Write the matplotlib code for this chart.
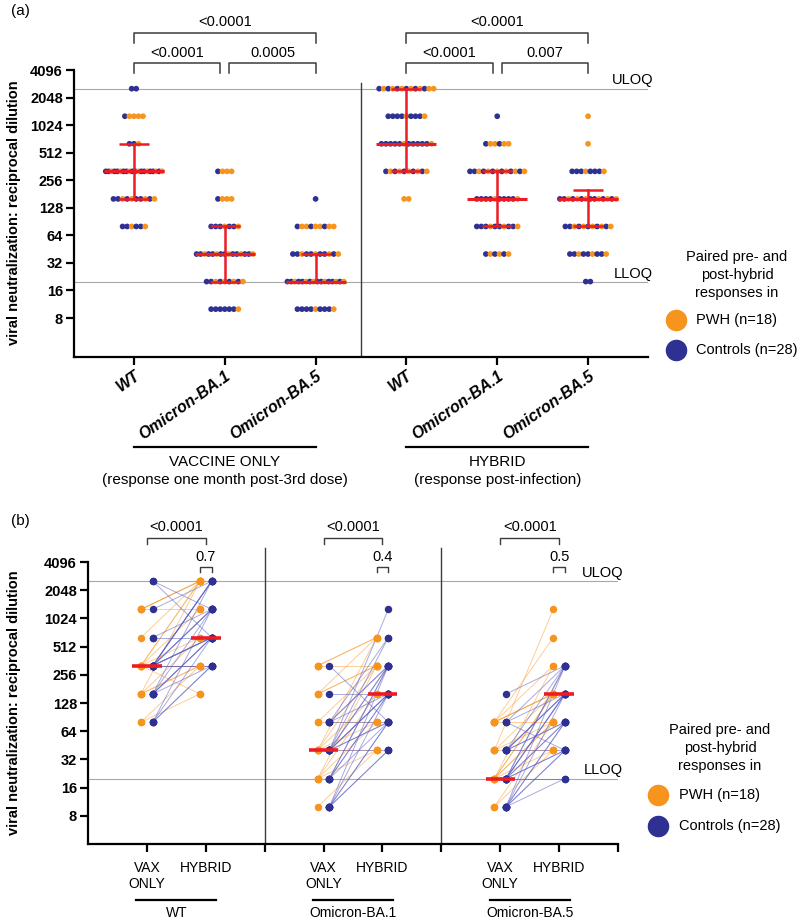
import numpy as np
import matplotlib
matplotlib.use('Agg')
import matplotlib.pyplot as plt
from matplotlib.lines import Line2D
from matplotlib.transforms import blended_transform_factory

plt.rcParams['font.family'] = ['Liberation Sans', 'DejaVu Sans']

ORANGE = '#F7941D'
BLUE = '#2E3192'
RED = '#EC1C24'
GRAYLINE = '#A8A8A8'
DARK = '#3C3C3C'

# ---------------- data (per subject, reciprocal dilution) ----------------
pwh_vax_wt = [80, 80, 160, 160, 160, 160, 320, 320, 320, 320, 320, 320, 320, 640, 1280, 1280, 1280, 1280]
pwh_hyb_wt = [320, 160, 640, 320, 2560, 320, 160, 2560, 1280, 320, 2560, 640, 320, 2560, 2560, 1280, 2560, 2560]
pwh_vax_ba1 = [10, 20, 20, 20, 20, 40, 40, 40, 40, 40, 80, 80, 160, 160, 160, 320, 320, 320]
pwh_hyb_ba1 = [40, 40, 80, 320, 160, 80, 320, 640, 40, 160, 320, 80, 640, 320, 320, 640, 320, 640]
pwh_vax_ba5 = [10, 10, 20, 20, 20, 20, 20, 20, 40, 40, 40, 40, 80, 80, 80, 80, 80, 80]
pwh_hyb_ba5 = [40, 80, 40, 160, 80, 320, 160, 80, 1280, 160, 40, 80, 640, 160, 320, 80, 160, 160]

ctl_vax_wt = [80, 80, 80, 80, 160, 160, 160, 160, 160, 160, 320, 320, 320, 320, 320, 320, 320, 320,
              320, 320, 320, 320, 320, 640, 640, 1280, 2560, 2560]
ctl_hyb_wt = [320, 640, 1280, 320, 640, 2560, 640, 320, 1280, 640, 640, 1280, 320, 2560, 640, 1280,
              2560, 320, 2560, 640, 1280, 640, 2560, 1280, 640, 2560, 640, 1280]
ctl_vax_ba1 = [10, 10, 10, 10, 10, 10, 20, 20, 20, 20, 20, 40, 40, 40, 40, 40, 40, 40, 40, 40, 40,
               80, 80, 80, 80, 80, 160, 320]
ctl_hyb_ba1 = [40, 80, 160, 80, 320, 40, 80, 160, 320, 160, 320, 160, 320, 80, 640, 160, 80, 320,
               160, 1280, 40, 320, 160, 640, 80, 320, 160, 80]
ctl_vax_ba5 = [10, 10, 10, 10, 10, 10, 10, 20, 20, 20, 20, 20, 20, 20, 20, 20, 20, 40, 40, 40, 40,
               40, 40, 40, 80, 80, 80, 160]
ctl_hyb_ba5 = [20, 40, 80, 160, 40, 80, 320, 20, 40, 80, 160, 320, 160, 40, 80, 160, 320, 80, 160,
               320, 40, 160, 80, 160, 320, 40, 160, 320]

variant_labels = ['WT', 'Omicron-BA.1', 'Omicron-BA.5']
panel_a_labels = variant_labels + variant_labels
panel_a_pwh = [pwh_vax_wt, pwh_vax_ba1, pwh_vax_ba5, pwh_hyb_wt, pwh_hyb_ba1, pwh_hyb_ba5]
panel_a_ctl = [ctl_vax_wt, ctl_vax_ba1, ctl_vax_ba5, ctl_hyb_wt, ctl_hyb_ba1, ctl_hyb_ba5]
a_median = [320, 40, 20, 640, 160, 160]
a_q1 = [160, 20, 20, 320, 80, 80]
a_q3 = [640, 80, 40, 2560, 320, 200]
a_pvals_top = ['<0.0001', '<0.0001']
a_pvals_low = [['<0.0001', '0.0005'], ['<0.0001', '0.007']]

b_median_vax = [320, 40, 20]
b_median_hyb = [640, 160, 160]
b_pvals_big = ['<0.0001', '<0.0001', '<0.0001']
b_pvals_small = ['0.7', '0.4', '0.5']

ULOQ, LLOQ = 2560, 20
yticks = [8, 16, 32, 64, 128, 256, 512, 1024, 2048, 4096]

# ---------------- figure ----------------
W, H = 800, 921
fig = plt.figure(figsize=(W / 100, H / 100), dpi=100)


def fx(px):
    return px / W


def fy(px):
    return 1 - px / H


def style_axis(ax):
    ax.set_yscale('log', base=2)
    ax.set_yticks(yticks)
    ax.set_yticklabels([str(t) for t in yticks], fontweight='bold', fontsize=10.5)
    ax.yaxis.set_minor_locator(matplotlib.ticker.NullLocator())
    for s in ['top', 'right']:
        ax.spines[s].set_visible(False)
    for s in ['left', 'bottom']:
        ax.spines[s].set_linewidth(1.6)
    ax.tick_params(axis='both', direction='out', length=6, width=1.6, pad=2)


def interleave(no, nb):
    n = no + nb
    seq = []
    for k in range(n):
        if no > 0 and int((k + 1) * no / n) > int(k * no / n):
            seq.append(ORANGE)
        else:
            seq.append(BLUE)
    return seq


# ======================= panel (a) =======================
ax = fig.add_axes([fx(74), fy(357), fx(648) - fx(74), fy(70) - fy(357)])
style_axis(ax)
ax.set_ylim(3.0, 4096)
ax.set_xlim(-0.66, 5.66)

ax.axhline(ULOQ, color=GRAYLINE, lw=0.8, zorder=0)
ax.axhline(LLOQ, color=GRAYLINE, lw=0.8, zorder=0)
ax.axvline(2.5, ymax=0.955, color=DARK, lw=1.0)

for i, (po, pc) in enumerate(zip(panel_a_pwh, panel_a_ctl)):
    levels = sorted(set(po) | set(pc))
    xs, ys, cs = [], [], []
    for lv in levels:
        no, nb = po.count(lv), pc.count(lv)
        n = no + nb
        step = min(0.05, 0.62 / (n - 1)) if n > 1 else 0
        offs = (np.arange(n) - (n - 1) / 2) * step
        for o, c in zip(offs, interleave(no, nb)):
            xs.append(i + o)
            ys.append(lv)
            cs.append(c)
    ax.scatter(xs, ys, s=17, c=cs, linewidths=0, zorder=3)
    ax.plot([i - 0.33, i + 0.33], [a_median[i]] * 2, color=RED, lw=2.2, zorder=5, solid_capstyle='butt')
    ax.plot([i, i], [a_q1[i], a_q3[i]], color=RED, lw=1.8, zorder=5)
    for q in (a_q1[i], a_q3[i]):
        ax.plot([i - 0.165, i + 0.165], [q, q], color=RED, lw=1.8, zorder=5, solid_capstyle='butt')

ax.set_xticks(range(6))
ax.set_xticklabels(panel_a_labels, rotation=35, ha='right', rotation_mode='anchor',
                   fontweight='bold', fontstyle='italic', fontsize=11.5)

tr_a = blended_transform_factory(ax.transData, fig.transFigure)


def bracket(tr, x1, x2, yl, yleg, label, ytxt, lw=1.1, fs=10.5):
    fig.add_artist(Line2D([x1, x1, x2, x2], [fy(yleg), fy(yl), fy(yl), fy(yleg)],
                          color=DARK, lw=lw, transform=tr))
    fig.text((x1 + x2) / 2, fy(ytxt), label, transform=tr, ha='center', va='center', fontsize=fs)


for g, base in enumerate([0, 3]):
    bracket(tr_a, base, base + 2, 33, 43, a_pvals_top[g], 22)
    bracket(tr_a, base, base + 0.95, 63, 73, a_pvals_low[g][0], 53)
    bracket(tr_a, base + 1.05, base + 2, 63, 73, a_pvals_low[g][1], 53)

group_titles = [('VACCINE ONLY', '(response one month post-3rd dose)'),
                ('HYBRID', '(response post-infection)')]
for g, base in enumerate([0, 3]):
    fig.add_artist(Line2D([base, base + 2], [fy(447), fy(447)], color='black', lw=1.6, transform=tr_a))
    fig.text(base + 1, fy(462), group_titles[g][0], transform=tr_a, ha='center', va='center', fontsize=11)
    fig.text(base + 1, fy(480), group_titles[g][1], transform=tr_a, ha='center', va='center', fontsize=11)

fig.text(fx(653), fy(80), 'ULOQ', ha='right', va='center', fontsize=10.5)
fig.text(fx(653), fy(274), 'LLOQ', ha='right', va='center', fontsize=10.5)
fig.text(fx(14), fy(213), 'viral neutralization: reciprocal dilution', rotation=90,
         ha='center', va='center', fontweight='bold', fontsize=10.5)
fig.text(fx(20), fy(11), '(a)', ha='center', va='center', fontsize=11)


def legend_block(cx, y0, circ_x, text_x, y_pwh, y_ctl):
    for k, line in enumerate(['Paired pre- and', 'post-hybrid', 'responses in']):
        fig.text(fx(cx), fy(y0 + 18 * k), line, ha='center', va='center', fontsize=10.5)
    for yy, col, lab in [(y_pwh, ORANGE, 'PWH (n=18)'), (y_ctl, BLUE, 'Controls (n=28)')]:
        fig.add_artist(Line2D([fx(circ_x)], [fy(yy)], marker='o', ms=14.5, color=col, mec=col,
                              lw=0, transform=fig.transFigure))
        fig.text(fx(text_x), fy(yy), lab, ha='left', va='center', fontsize=10.5)


legend_block(737, 257, 676, 696, 320, 350)

# ======================= panel (b) =======================
bx = fig.add_axes([fx(88), fy(844), fx(618) - fx(88), fy(562) - fy(844)])
style_axis(bx)
bx.set_ylim(4, 4096)
bx.set_xlim(0, 9)
bx.axhline(ULOQ, color=GRAYLINE, lw=0.8, zorder=0)
bx.axhline(LLOQ, color=GRAYLINE, lw=0.8, zorder=0)
for xs_ in (3, 6):
    bx.axvline(xs_, ymin=0, ymax=1.05, color=DARK, lw=1.0, clip_on=False)

pairs_pwh = [(pwh_vax_wt, pwh_hyb_wt), (pwh_vax_ba1, pwh_hyb_ba1), (pwh_vax_ba5, pwh_hyb_ba5)]
pairs_ctl = [(ctl_vax_wt, ctl_hyb_wt), (ctl_vax_ba1, ctl_hyb_ba1), (ctl_vax_ba5, ctl_hyb_ba5)]
DX = 0.1
for s in range(3):
    xv, xh = 1 + 3 * s, 2 + 3 * s
    pv, ph = pairs_pwh[s]
    cv, ch = pairs_ctl[s]
    for a, b in zip(pv, ph):
        bx.plot([xv - DX, xh - DX], [a, b], color=ORANGE, lw=0.7, alpha=0.45, zorder=2)
    for a, b in zip(cv, ch):
        bx.plot([xv + DX, xh + DX], [a, b], color='#5558C0', lw=0.7, alpha=0.5, zorder=2)
    bx.scatter([xv - DX] * len(pv) + [xh - DX] * len(ph), pv + ph, s=29, color=ORANGE, linewidths=0, zorder=3)
    bx.scatter([xv + DX] * len(cv) + [xh + DX] * len(ch), cv + ch, s=29, color=BLUE, linewidths=0, zorder=3)
    bx.plot([xv - 0.25, xv + 0.25], [b_median_vax[s]] * 2, color=RED, lw=2.6, zorder=5, solid_capstyle='butt')
    bx.plot([xh - 0.25, xh + 0.25], [b_median_hyb[s]] * 2, color=RED, lw=2.6, zorder=5, solid_capstyle='butt')

bx.set_xticks(range(1, 10))
bx.set_xticklabels(['VAX\nONLY', 'HYBRID', '', 'VAX\nONLY', 'HYBRID', '', 'VAX\nONLY', 'HYBRID', ''],
                   fontsize=10, linespacing=1.2)
bx.tick_params(axis='x', pad=6)

tr_b = blended_transform_factory(bx.transData, fig.transFigure)
for s in range(3):
    xv, xh = 1 + 3 * s, 2 + 3 * s
    bracket(tr_b, xv, xh, 538, 544, b_pvals_big[s], 527, lw=1.0)
    bracket(tr_b, xh - DX, xh + DX, 567, 572, b_pvals_small[s], 557, lw=1.0)
    mid = (xv + xh) / 2
    fig.add_artist(Line2D([mid - 0.68, mid + 0.68], [fy(900), fy(900)], color='black', lw=1.6, transform=tr_b))
    fig.text(mid, fy(913), variant_labels[s], transform=tr_b, ha='center', va='center', fontsize=10)

fig.text(fx(623), fy(573), 'ULOQ', ha='right', va='center', fontsize=10.5)
fig.text(fx(623), fy(770), 'LLOQ', ha='right', va='center', fontsize=10.5)
fig.text(fx(14), fy(703), 'viral neutralization: reciprocal dilution', rotation=90,
         ha='center', va='center', fontweight='bold', fontsize=10.5)
fig.text(fx(20), fy(521), '(b)', ha='center', va='center', fontsize=11)

legend_block(720, 730, 658, 679, 795, 826)

fig.savefig('out.png', dpi=100)
